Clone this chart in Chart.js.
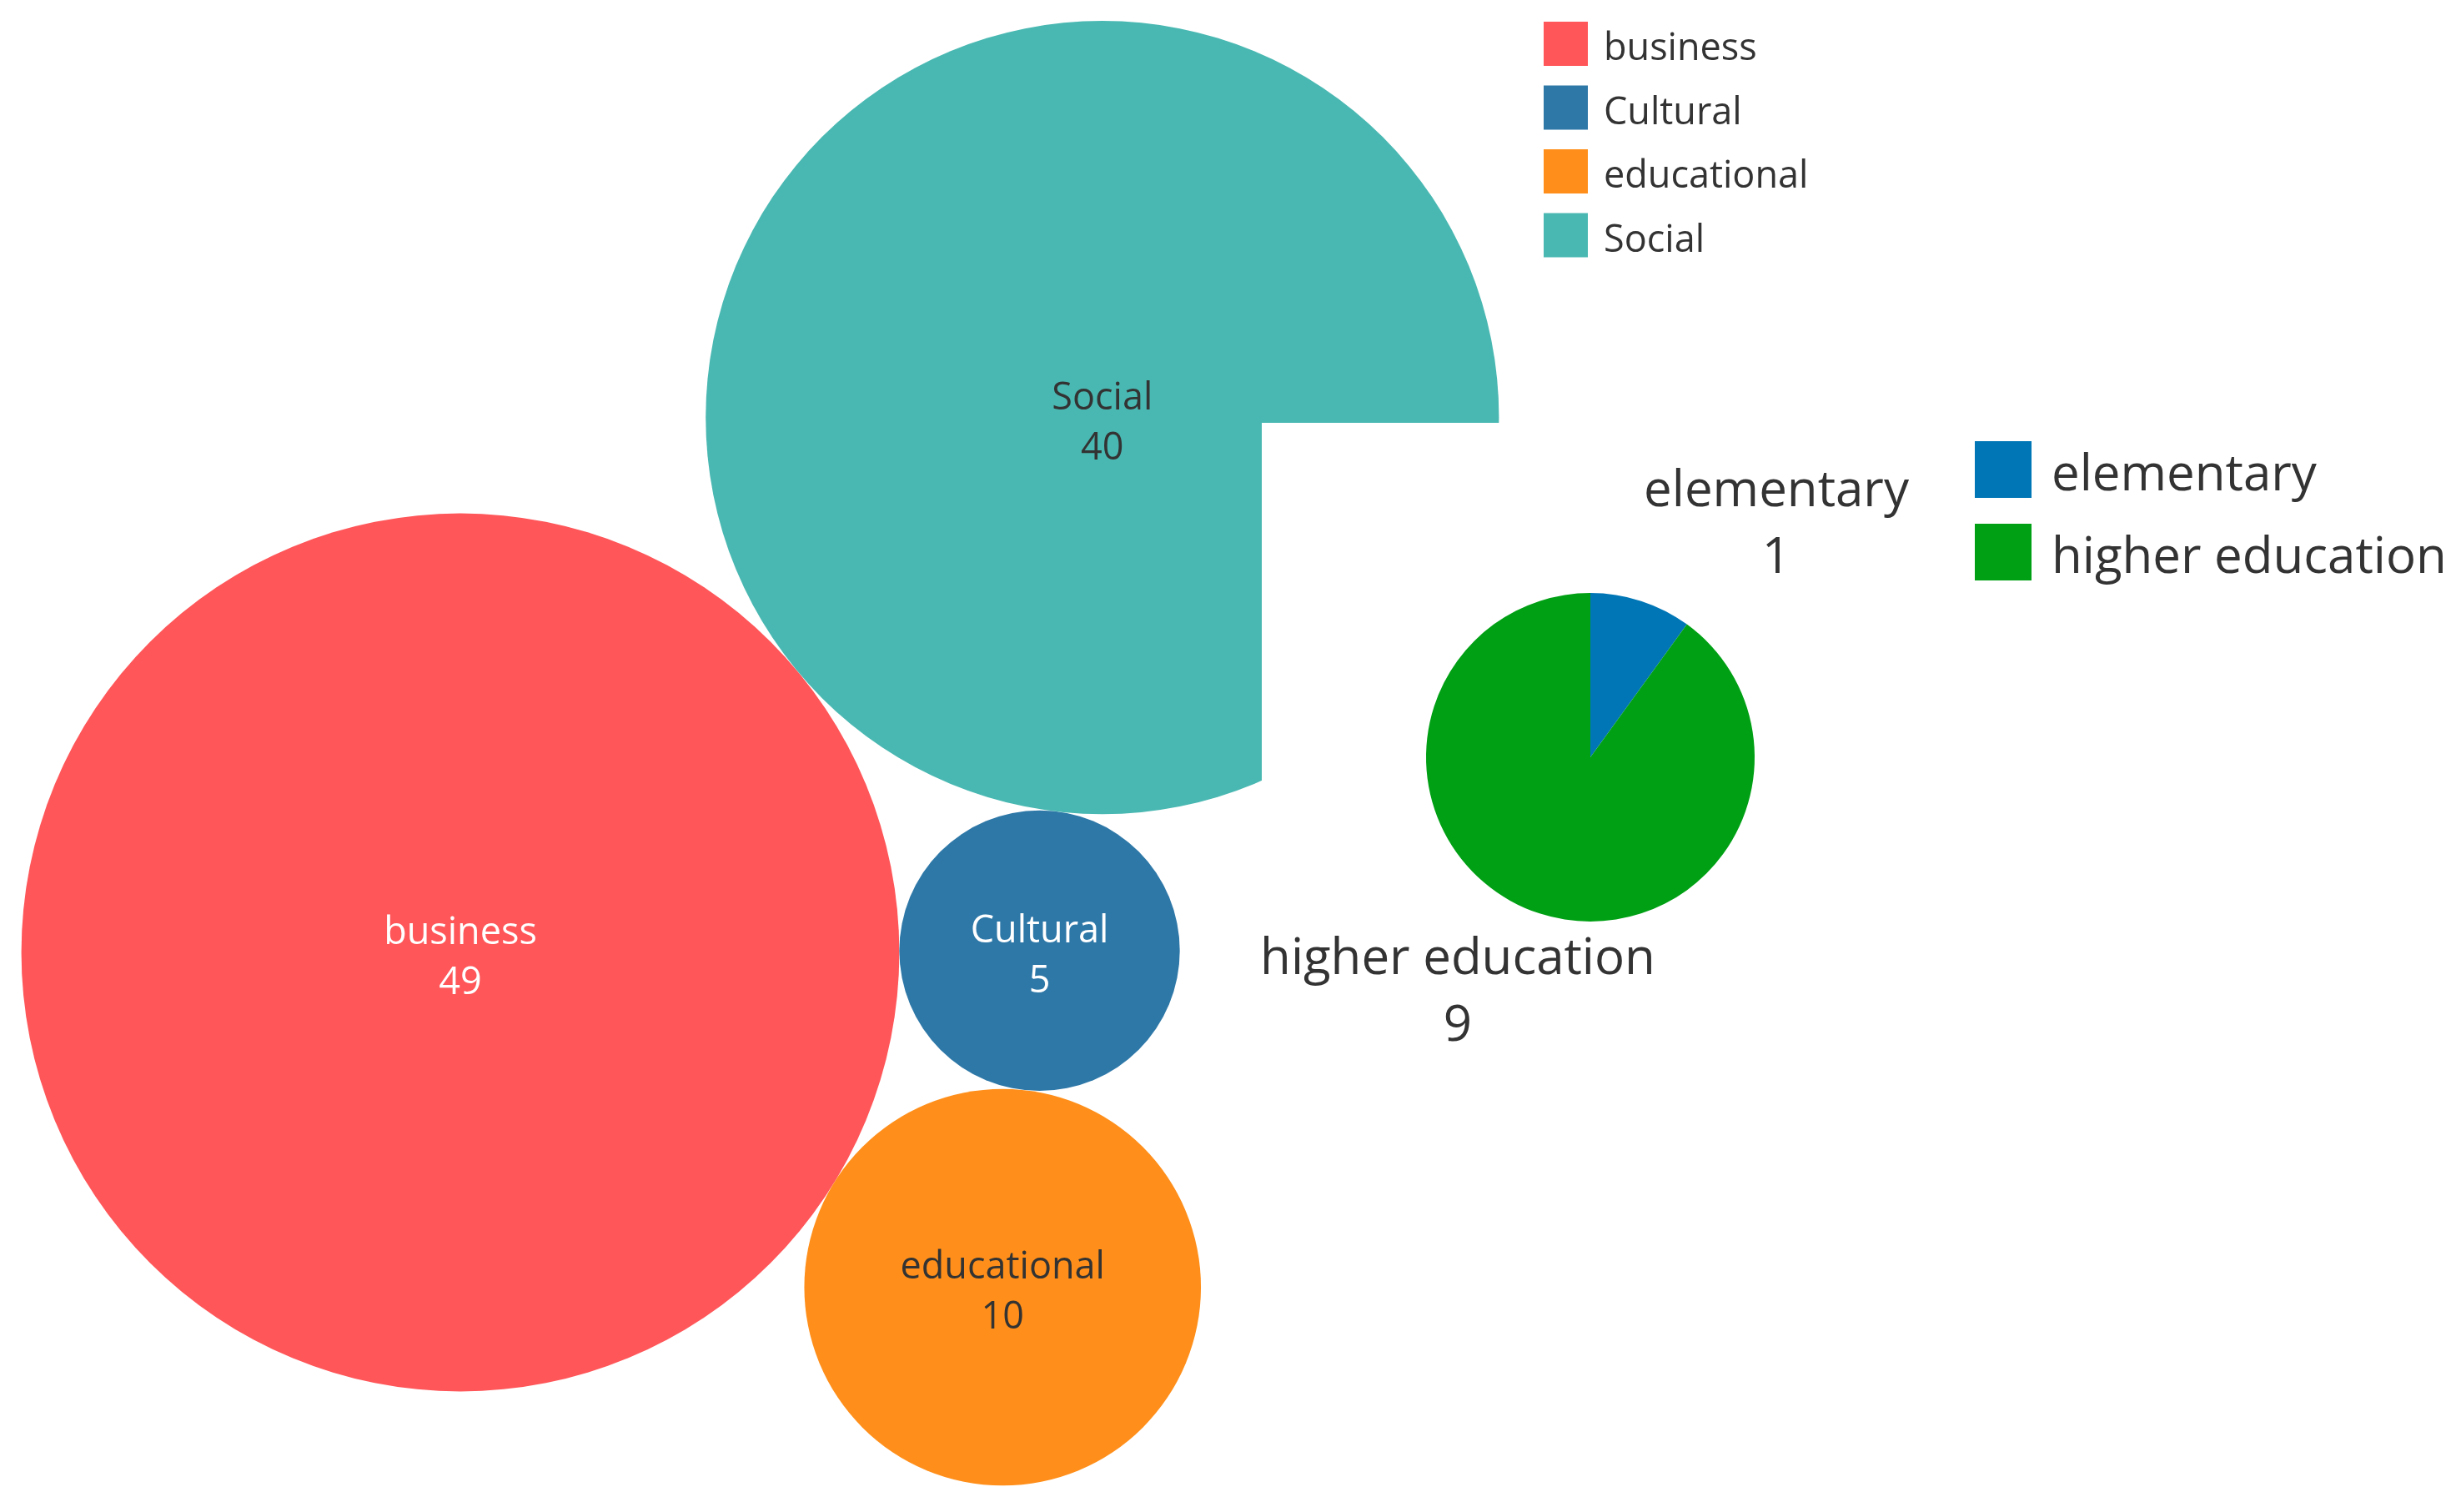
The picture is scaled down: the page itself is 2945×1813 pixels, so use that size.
<!DOCTYPE html>
<html>
<head>
<meta charset="utf-8">
<title>Packed bubbles and pie</title>
<script src="https://cdn.jsdelivr.net/npm/chart.js@4.4.1/dist/chart.umd.min.js"></script>
<style>
  html, body { margin: 0; padding: 0; background: #fff; }
  #wrap { position: relative; width: 2945px; height: 1813px; overflow: hidden; }
  #bubbles { position: absolute; left: 0; top: 0; }
  #pieBox { position: absolute; left: 1513px; top: 507px; width: 1432px; height: 1306px; background: #fff; }
</style>
</head>
<body>
<div id="wrap">
  <canvas id="bubbles" width="2945" height="1813"></canvas>
  <div id="pieBox"><canvas id="pie" width="1432" height="1306"></canvas></div>
</div>
<script>
// data
const categories = ['business', 'Cultural', 'educational', 'Social'];
const counts = [49, 5, 10, 40];
const levels = ['elementary', 'higher education'];
const levelCounts = [1, 9];

// colours
const catColors = ['#FF5659', '#2E78A8', '#FF8F1A', '#4AB8B2'];
const catInk = ['#ffffff', '#ffffff', '#333333', '#333333'];
const levelColors = ['#0076B6', '#00A014'];
const FONT = '"Open Sans", "Noto Sans", sans-serif';
const INK = '#333333';

// pack the circles: area ~ count, each new circle touches two placed ones
const pxPerSqrt = 75.2;
const radii = counts.map(v => pxPerSqrt * Math.sqrt(v));

function touching(a, b, r) {
  const dx = b.x - a.x, dy = b.y - a.y;
  const d = Math.hypot(dx, dy);
  const da = a.r + r, db = b.r + r;
  const t = (da * da - db * db + d * d) / (2 * d);
  const h = Math.sqrt(Math.max(0, da * da - t * t));
  const ux = dx / d, uy = dy / d;
  return { x: a.x + ux * t - uy * h, y: a.y + uy * t + ux * h, r: r };
}

const packed = [];
const startAngle = -39.8 * Math.PI / 180;
packed[0] = { x: 552, y: 1142, r: radii[0] };                       // business
packed[3] = {
  x: packed[0].x + (radii[0] + radii[3]) * Math.cos(startAngle),
  y: packed[0].y + (radii[0] + radii[3]) * Math.sin(startAngle),
  r: radii[3]
};                                                                  // Social
packed[1] = touching(packed[0], packed[3], radii[1]);               // Cultural
packed[2] = touching(packed[0], packed[1], radii[2]);               // educational

// text inside the bubbles
const bubbleLabels = {
  id: 'bubbleLabels',
  afterDatasetsDraw(chart) {
    const ctx = chart.ctx;
    const meta = chart.getDatasetMeta(0);
    ctx.save();
    ctx.font = '45px ' + FONT;
    ctx.textAlign = 'center';
    ctx.textBaseline = 'alphabetic';
    meta.data.forEach((el, i) => {
      ctx.fillStyle = catInk[i];
      ctx.fillText(categories[i], el.x, el.y - 10);
      ctx.fillText(String(counts[i]), el.x, el.y + 50);
    });
    ctx.restore();
  }
};

// colour legend, top right
const catLegend = {
  id: 'catLegend',
  afterDraw(chart) {
    const ctx = chart.ctx;
    ctx.save();
    ctx.font = '45px ' + FONT;
    ctx.textAlign = 'left';
    ctx.textBaseline = 'alphabetic';
    categories.forEach((c, i) => {
      const top = 26 + i * 76.5;
      ctx.fillStyle = catColors[i];
      ctx.fillRect(1851, top, 53, 53);
      ctx.fillStyle = INK;
      ctx.fillText(c, 1923, top + 46);
    });
    ctx.restore();
  }
};

new Chart(document.getElementById('bubbles'), {
  type: 'bubble',
  data: {
    labels: categories,
    datasets: [{
      label: 'count',
      data: packed.map(p => ({ x: p.x, y: p.y, r: p.r })),
      backgroundColor: catColors,
      borderWidth: 0,
      hoverBorderWidth: 0,
      clip: false
    }]
  },
  options: {
    responsive: false,
    animation: false,
    events: [],
    layout: { autoPadding: false, padding: 0 },
    scales: {
      x: { type: 'linear', min: 0, max: 2945, display: false },
      y: { type: 'linear', min: 0, max: 1813, reverse: true, display: false }
    },
    plugins: { legend: { display: false }, tooltip: { enabled: false } }
  },
  plugins: [bubbleLabels, catLegend]
});

// pie: labels and its own legend
const pieLabelSpots = [
  { dx: 223, dy: -301 },   // elementary
  { dx: -159, dy: 260 }    // higher education
];

const pieExtras = {
  id: 'pieExtras',
  afterDatasetsDraw(chart) {
    const ctx = chart.ctx;
    const arc = chart.getDatasetMeta(0).data[0];
    ctx.save();
    ctx.font = '60px ' + FONT;
    ctx.fillStyle = INK;
    ctx.textBaseline = 'alphabetic';
    ctx.textAlign = 'center';
    levels.forEach((l, i) => {
      const s = pieLabelSpots[i];
      ctx.fillText(l, arc.x + s.dx, arc.y + s.dy);
      ctx.fillText(String(levelCounts[i]), arc.x + s.dx, arc.y + s.dy + 80);
    });
    ctx.textAlign = 'left';
    levels.forEach((l, i) => {
      const top = 22 + i * 99;
      ctx.fillStyle = levelColors[i];
      ctx.fillRect(855, top, 68, 68);
      ctx.fillStyle = INK;
      ctx.fillText(l, 947, top + 59);
    });
    ctx.restore();
  }
};

new Chart(document.getElementById('pie'), {
  type: 'pie',
  data: {
    labels: levels,
    datasets: [{
      data: levelCounts,
      backgroundColor: levelColors,
      borderWidth: 0,
      hoverOffset: 0,
      offset: 0
    }]
  },
  options: {
    responsive: false,
    animation: false,
    events: [],
    layout: { padding: { left: 197, top: 204, right: 841, bottom: 708 } },
    plugins: { legend: { display: false }, tooltip: { enabled: false } }
  },
  plugins: [pieExtras]
});
</script>
</body>
</html>
